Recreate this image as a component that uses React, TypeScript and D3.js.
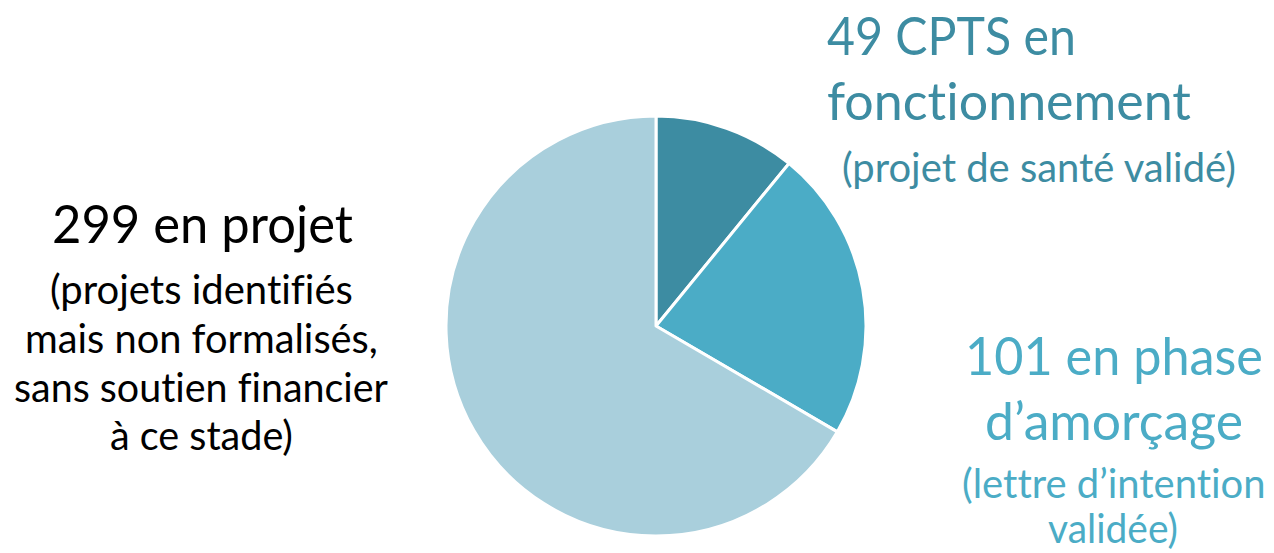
import React from "react";
import * as d3 from "d3";

const categories = ["CPTS en fonctionnement", "En phase d'amorçage", "En projet"];
const values = [49, 101, 299];
const colors = ["#3D8CA2", "#4BACC6", "#A9CFDC"];
const textColors = ["#3D8CA2", "#4BACC6", "#000000"];

const titleLines = [
  ["49 CPTS en", "fonctionnement"],
  ["101 en phase", "d\u2019amorçage"],
  ["299 en projet"],
];
const subLines = [
  ["(projet de santé validé)"],
  ["(lettre d\u2019intention", "validée)"],
  ["(projets identifiés", "mais non formalisés,", "sans soutien financier", "à ce stade)"],
];

const W = 1274;
const H = 553;
const FONT_NAME = "Lato";
const FONT = "Lato, 'Open Sans', sans-serif";

// label layout: [x0, x1, baseline] per line
const layout = [
  {
    title: [[827, 1076, 55], [827, 1192, 120]],
    sub: [[842, 1237, 182]],
    tSize: 53,
    sSize: 41,
  },
  {
    title: [[965, 1263, 375], [985, 1243, 440]],
    sub: [[962, 1265, 498], [1048, 1178, 543]],
    tSize: 53,
    sSize: 41,
  },
  {
    title: [[52, 353, 243]],
    sub: [[50, 353, 304], [25, 378, 353], [14, 388, 402], [110, 293, 450]],
    tSize: 53,
    sSize: 41,
  },
];

let ctx: CanvasRenderingContext2D | null = null;
function measure(t: string, size: number): number {
  if (!ctx) ctx = document.createElement("canvas").getContext("2d");
  if (!ctx) return t.length * size * 0.5;
  ctx.font = `${size}px ${FONT_NAME}, 'Open Sans', sans-serif`;
  return ctx.measureText(t).width;
}

function FitText({ t, x0, x1, y, size }: { t: string; x0: number; x1: number; y: number; size: number }) {
  const w = measure(t, size);
  const sx = w > 0 ? (x1 - x0) / w : 1;
  return (
    <text
      transform={`translate(${x0},${y}) scale(${sx.toFixed(4)},1)`}
      fontSize={size}
      style={{ fontVariantLigatures: "none", fontFeatureSettings: "'liga' 0, 'clig' 0" }}
    >
      {t}
    </text>
  );
}

export default function App() {
  const cx = 656;
  const cy = 326;
  const r = 210;
  const pie = d3.pie<number>().sort(null).value((d) => d)(values);
  const arc = d3.arc<d3.PieArcDatum<number>>().innerRadius(0).outerRadius(r);

  return (
    <svg
      width={W}
      height={H}
      style={{ position: "absolute", left: 0, top: 0, background: "#fff" }}
    >
      <g transform={`translate(${cx},${cy})`}>
        {pie.map((p, i) => (
          <path
            key={categories[i]}
            d={arc(p) || ""}
            fill={colors[i]}
            stroke="#fff"
            strokeWidth={3}
            strokeLinejoin="round"
          />
        ))}
      </g>
      {layout.map((L, i) => (
        <g key={i} fontFamily={FONT} fill={textColors[i]}>
          {titleLines[i].map((t, j) => {
            const [x0, x1, y] = L.title[j];
            return <FitText key={"t" + j} t={t} x0={x0} x1={x1} y={y} size={L.tSize} />;
          })}
          {subLines[i].map((t, j) => {
            const [x0, x1, y] = L.sub[j];
            return <FitText key={"s" + j} t={t} x0={x0} x1={x1} y={y} size={L.sSize} />;
          })}
        </g>
      ))}
    </svg>
  );
}
